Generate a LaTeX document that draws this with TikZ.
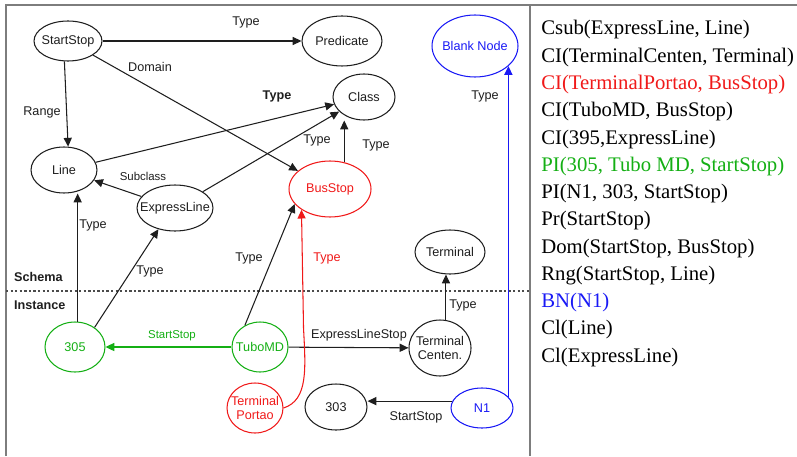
\documentclass[tikz,border=0pt]{standalone}
\usepackage{fontspec}
\setmainfont{Liberation Serif}
\setsansfont{Liberation Sans}
\usetikzlibrary{shapes.geometric, arrows.meta, positioning}
\definecolor{ink}{RGB}{30,30,30}
\definecolor{framegray}{RGB}{125,125,125}
\definecolor{kgreen}{RGB}{20,175,20}
\definecolor{kred}{RGB}{240,25,25}
\definecolor{kblue}{RGB}{25,25,245}
\tikzset{
  ent/.style 2 args={ellipse,draw=ink,line width=0.6pt,inner sep=-20pt,
              minimum width=#1,minimum height=#2,align=center,
              font=\sffamily\fontsize{7.2}{8.4}\selectfont,text=ink},
  lbl/.style={font=\sffamily\fontsize{7.2}{8.4}\selectfont,text=ink,inner sep=1pt},
  small/.style={font=\sffamily\fontsize{6.5}{7.5}\selectfont},
  arr/.style={-{Triangle[length=5pt,width=4.6pt]},line width=0.6pt,draw=ink},
  frame/.style={draw=framegray,line width=0.9pt},
  sep/.style={draw=ink!80,line width=0.6pt,dash pattern=on 1.3pt off 1.3pt},
  fact/.style={anchor=base west,inner sep=0pt,font=\fontsize{11.8}{14}\selectfont},
}
\begin{document}
\begin{tikzpicture}[x=0.02cm,y=-0.02cm]
  \useasboundingbox (0,0) rectangle (797,456);
  % frame and schema/instance split
  \draw[frame] (6,456) -- (6,5) -- (797,5);
  \draw[frame] (530,5) -- (530,456);
  \draw[sep] (6,291) -- (530,291);
  \node[lbl,anchor=west,font=\sffamily\bfseries\fontsize{7.2}{8.4}\selectfont] at (12,277) {Schema};
  \node[lbl,anchor=west,font=\sffamily\bfseries\fontsize{7.2}{8.4}\selectfont] at (12,305) {Instance};

  % schema level
  \node[ent={1.36cm}{0.8cm}](startstop) at (68,41) {StartStop};
  \node[ent={1.6cm}{1.0cm}](predicate) at (342,41) {Predicate};
  \node[ent={1.72cm}{1.24cm},draw=kblue,text=kblue](blank) at (475,46) {Blank Node};
  \node[ent={1.24cm}{0.92cm}](class) at (364,97) {Class};
  \node[ent={1.64cm}{1.12cm},draw=kred,text=kred](busstop) at (330,189) {BusStop};
  \node[ent={1.32cm}{0.92cm}](line) at (64,170) {Line};
  \node[ent={1.52cm}{0.92cm}](expr) at (175,208) {ExpressLine};
  \node[ent={1.4cm}{0.88cm}](terminal) at (450,252) {Terminal};

  % instance level
  \node[ent={1.2cm}{1.0cm},draw=kgreen,text=kgreen](n305) at (75,347) {305};
  \node[ent={1.12cm}{1.0cm},draw=kgreen,text=kgreen](tubo) at (260,347) {TuboMD};
  \node[ent={1.12cm}{1.0cm},draw=kred,text=kred](portao) at (255,408) {Terminal\\Portao};
  \node[ent={1.24cm}{1.12cm}](centen) at (440,348) {Terminal\\Centen.};
  \node[ent={1.24cm}{0.92cm}](n303) at (336,407) {303};
  \node[ent={1.24cm}{0.8cm},draw=kblue,text=kblue](n1) at (482,408) {N1};

  % connectors
  \draw[arr](startstop)--(predicate);
  \draw[arr](startstop)--(busstop);
  \draw[arr](startstop.260)--(line.80);
  \draw[arr](line)--(class);
  \draw[arr](expr)--(class);
  \draw[arr](expr)--(line);
  \draw[arr](busstop.62)--(busstop.62 |- class.south);
  \draw[arr](n305.84)--(n305.84 |- line.south);
  \draw[arr](n305.45)--(expr.232);
  \draw[arr](tubo.125)--(busstop.203);
  \draw[arr,draw=kgreen,line width=0.8pt](tubo)--(n305);
  \draw[arr](tubo)--(centen);
  \draw[arr,draw=kred](portao.east) .. controls +(25,-8) and +(2,40) .. ++(20,-80) -- (busstop.216);
  \draw[arr](centen.78)--(centen.78 |- terminal.south);
  \draw[arr](n1.167)--(n1.167 -| n303.east);
  \draw[arr,draw=kblue,line width=0.8pt](n1.23)--(n1.23 |- blank.-31);

  % connector labels
  \node[lbl] at (246,22) {Type};
  \node[lbl] at (150,67) {Domain};
  \node[lbl] at (42,112) {Range};
  \node[lbl,font=\sffamily\bfseries\fontsize{7.2}{8.4}\selectfont] at (277,96) {Type};
  \node[lbl] at (317,140) {Type};
  \node[lbl] at (376,145) {Type};
  \node[lbl] at (485,96) {Type};
  \node[lbl,small] at (143,176) {Subclass};
  \node[lbl] at (93,225) {Type};
  \node[lbl] at (150,271) {Type};
  \node[lbl] at (249,258) {Type};
  \node[lbl,text=kred] at (327,258) {Type};
  \node[lbl,small,text=kgreen] at (172,336) {StartStop};
  \node[lbl] at (359,335) {ExpressLineStop};
  \node[lbl] at (463,305) {Type};
  \node[lbl] at (416,417) {StartStop};

  % facts
  \foreach \txt/\col [count=\i from 0] in {
      {Csub(ExpressLine, Line)}/black,
      {CI(TerminalCenten, Terminal)}/black,
      {CI(TerminalPortao, BusStop)}/kred,
      {CI(TuboMD, BusStop)}/black,
      {CI(395,ExpressLine)}/black,
      {PI(305, Tubo MD, StartStop)}/kgreen,
      {PI(N1, 303, StartStop)}/black,
      {Pr(StartStop)}/black,
      {Dom(StartStop, BusStop)}/black,
      {Rng(StartStop, Line)}/black,
      {BN(N1)}/kblue,
      {Cl(Line)}/black,
      {Cl(ExpressLine)}/black}
    \node[fact,text=\col](fact\i) at (541,35+27.25*\i) {\txt};
\end{tikzpicture}
\end{document}
